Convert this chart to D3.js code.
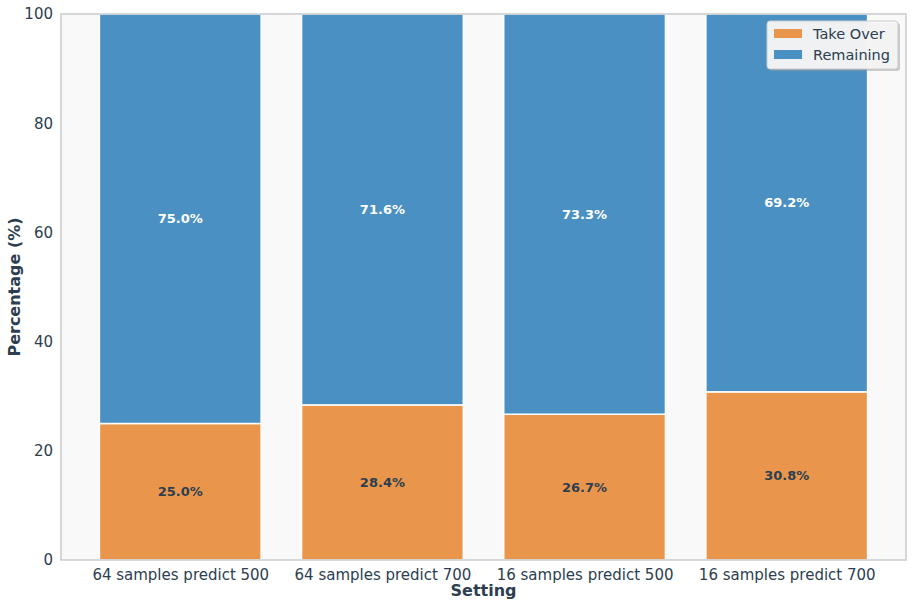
<!DOCTYPE html>
<html><head><meta charset="utf-8">
<script src="https://cdn.jsdelivr.net/npm/d3@7"></script>
<style>body{margin:0;background:#fff;font-family:"DejaVu Sans",sans-serif;}</style>
</head><body>
<svg id="c" width="914" height="607"></svg>
<script>
const categories = ["64 samples predict 500","64 samples predict 700","16 samples predict 500","16 samples predict 700"];
const takeOver = [25.0, 28.4, 26.7, 30.8];
const remaining = [75.0, 71.6, 73.3, 69.2];
const seriesNames = ["Take Over","Remaining"];
const seriesColors = ["#e9964c","#4a90c2"];
const yTicks = [0,20,40,60,80,100];

const svg = d3.select("#c");
const L=61, T=14, R=906, B=560;
const txt="#2c3e50";
const x = d3.scaleLinear().domain([-0.59, 3.59]).range([L,R]);
const y = d3.scaleLinear().domain([0,100]).range([B,T]);

svg.append("rect").attr("x",L).attr("y",T).attr("width",R-L).attr("height",B-T).attr("fill","#f9f9f9");

const bw = 0.8;
const g = svg.append("g");
categories.forEach((c,i)=>{
  g.append("rect").attr("x",x(i-bw/2)).attr("width",x(i+bw/2)-x(i-bw/2))
   .attr("y",y(takeOver[i])).attr("height",y(0)-y(takeOver[i]))
   .attr("fill",seriesColors[0]).attr("stroke","#fff").attr("stroke-width",1.5);
  g.append("rect").attr("x",x(i-bw/2)).attr("width",x(i+bw/2)-x(i-bw/2))
   .attr("y",y(takeOver[i]+remaining[i])).attr("height",y(takeOver[i])-y(takeOver[i]+remaining[i]))
   .attr("fill",seriesColors[1]).attr("stroke","#fff").attr("stroke-width",1.5);
  g.append("text").attr("x",x(i)).attr("y",y(takeOver[i]/2)).attr("dy","0.35em")
   .attr("text-anchor","middle").attr("font-size",13).attr("font-weight","bold").attr("fill",txt)
   .text(takeOver[i].toFixed(1)+"%");
  g.append("text").attr("x",x(i)).attr("y",y(takeOver[i]+remaining[i]/2)).attr("dy","0.35em")
   .attr("text-anchor","middle").attr("font-size",13).attr("font-weight","bold").attr("fill","#fff")
   .text(remaining[i].toFixed(1)+"%");
});

// y axis
const ya = svg.append("g").attr("transform",`translate(${L},0)`)
  .call(d3.axisLeft(y).tickValues(yTicks).tickSize(0).tickPadding(8));
ya.select(".domain").remove();
ya.selectAll("text").attr("font-size",15).attr("fill",txt).attr("font-family","DejaVu Sans");
// x axis
const xa = svg.append("g").attr("transform",`translate(0,${B})`)
  .call(d3.axisBottom(x).tickValues(d3.range(categories.length)).tickFormat(i=>categories[i]).tickSize(0).tickPadding(9));
xa.select(".domain").remove();
xa.selectAll("text").attr("font-size",15).attr("fill",txt).attr("font-family","DejaVu Sans");

// spines
svg.append("rect").attr("x",L).attr("y",T).attr("width",R-L).attr("height",B-T)
  .attr("fill","none").attr("stroke","#c8ccd0").attr("stroke-width",1.5);

svg.append("text").attr("x",(L+R)/2).attr("y",596).attr("text-anchor","middle")
  .attr("font-size",16).attr("font-weight","bold").attr("fill",txt).text("Setting");
svg.append("text").attr("transform",`translate(20,${(T+B)/2}) rotate(-90)`).attr("text-anchor","middle")
  .attr("font-size",16).attr("font-weight","bold").attr("fill",txt).text("Percentage (%)");

// legend
const lg = svg.append("g").attr("transform","translate(767,21)");
lg.append("rect").attr("x",2).attr("y",2).attr("width",131).attr("height",48).attr("rx",3).attr("fill","#999").attr("opacity",0.5);
lg.append("rect").attr("x",0).attr("y",0).attr("width",131).attr("height",48).attr("rx",3)
  .attr("fill","#f5f6f7").attr("fill-opacity",0.95).attr("stroke","#ccc");
seriesNames.forEach((s,i)=>{
  lg.append("rect").attr("x",7).attr("y",8+i*21).attr("width",28).attr("height",9).attr("fill",seriesColors[i]);
  lg.append("text").attr("x",46).attr("y",12.5+i*21).attr("dy","0.35em").attr("font-size",14.5).attr("fill",txt).text(s);
});
</script>
</body></html>
